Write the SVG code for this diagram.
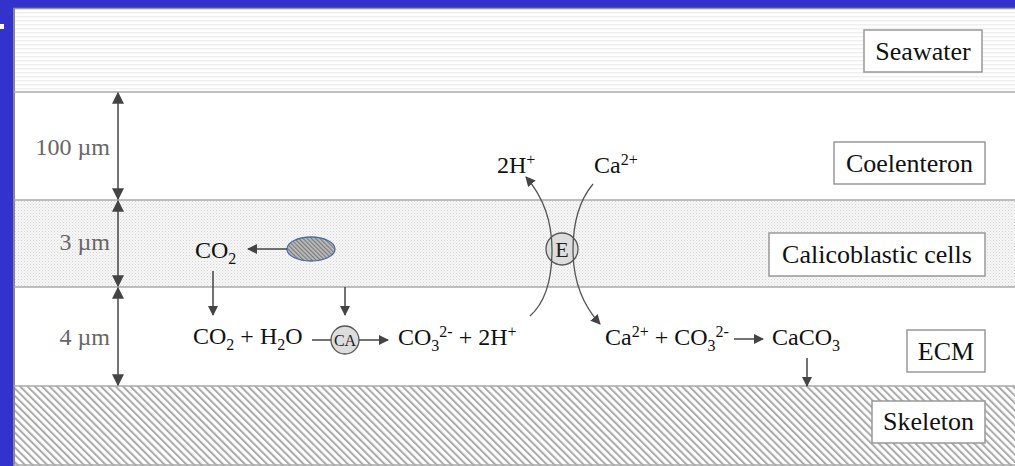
<svg xmlns="http://www.w3.org/2000/svg" width="1015" height="466" viewBox="0 0 1015 466">
<defs>
<style>
.lbl{font-family:"Liberation Serif","Times New Roman",serif;font-size:26px;fill:#111;text-anchor:middle}
.box{fill:#fff;stroke:#999;stroke-width:1.5}
.dim{font-family:"Liberation Serif","Times New Roman",serif;font-size:24px;fill:#666;text-anchor:end}
.chem{font-family:"Liberation Serif","Times New Roman",serif;font-size:24px;fill:#111}
.sm{font-size:16px}
.ln{fill:none;stroke:#444;stroke-width:1.5}
.cv{fill:none;stroke:#555;stroke-width:1.3}
.bnd{stroke:#aaa;stroke-width:1.5}
</style>
<pattern id="stripes" width="8" height="4" patternUnits="userSpaceOnUse">
<rect width="8" height="4" fill="#fff"/>
<rect y="0" width="8" height="1.5" fill="#efefef"/>
</pattern>
<pattern id="dots" width="3" height="3" patternUnits="userSpaceOnUse">
<rect width="3" height="3" fill="#f6f6f6"/>
<rect width="1" height="1" fill="#d6d6d6"/>
<rect x="1.5" y="1.5" width="1" height="1" fill="#e2e2e2"/>
</pattern>
<pattern id="hatch" width="5.2" height="5.2" patternUnits="userSpaceOnUse" patternTransform="rotate(-45)">
<rect width="5.2" height="5.2" fill="#fff"/>
<rect width="2" height="5.2" fill="#aaa"/>
</pattern>
<pattern id="hatch2" width="3" height="3" patternUnits="userSpaceOnUse" patternTransform="rotate(-45)">
<rect width="3" height="3" fill="#bdbdbd"/>
<rect width="1.2" height="3" fill="#7a7a7a"/>
</pattern>
<marker id="ah" viewBox="0 0 10 10" refX="9" refY="5" markerWidth="10" markerHeight="10" markerUnits="userSpaceOnUse" orient="auto">
<path d="M0,0 L10,5 L0,10 Z" fill="#444"/>
</marker>
<marker id="dh" viewBox="0 0 10 10" refX="9" refY="5" markerWidth="12" markerHeight="12" markerUnits="userSpaceOnUse" orient="auto-start-reverse">
<path d="M0,0 L10,5 L0,10 Z" fill="#444"/>
</marker>
</defs>

<rect width="1015" height="466" fill="#3333cc"/>
<rect x="0" y="24" width="4" height="5" fill="#fff"/>

<g id="layers">
<rect x="14" y="9" width="1001" height="83" fill="url(#stripes)"/>
<rect x="14" y="92" width="1001" height="108" fill="#fff"/>
<rect x="14" y="200" width="1001" height="87" fill="url(#dots)"/>
<rect x="14" y="287" width="1001" height="99" fill="#fff"/>
<rect x="14" y="386" width="1001" height="80" fill="url(#hatch)"/>
<line x1="13" y1="8.5" x2="1015" y2="8.5" stroke="#999" stroke-width="1.5"/>
<line x1="14" y1="8" x2="14" y2="466" stroke="#888" stroke-width="2"/>
<line class="bnd" x1="14" y1="92" x2="1015" y2="92"/>
<line class="bnd" x1="14" y1="200" x2="1015" y2="200"/>
<line class="bnd" x1="14" y1="287" x2="1015" y2="287"/>
<line class="bnd" x1="14" y1="386" x2="1015" y2="386"/>
<line class="bnd" x1="14" y1="465" x2="1015" y2="465"/>
</g>

<g id="seawater"><rect class="box" x="864" y="30" width="118" height="42"/><text class="lbl" x="923" y="60">Seawater</text></g>
<g id="coelenteron"><rect class="box" x="834" y="142" width="151" height="42"/><text class="lbl" x="909.5" y="172">Coelenteron</text></g>
<g id="calicoblastic"><rect class="box" x="769" y="233" width="216" height="43"/><text class="lbl" x="877" y="263">Calicoblastic cells</text></g>
<g id="ecm"><rect class="box" x="907" y="330" width="78" height="42"/><text class="lbl" x="946" y="360">ECM</text></g>
<g id="skeleton"><rect class="box" x="872" y="401" width="113" height="42"/><text class="lbl" x="928.5" y="430">Skeleton</text></g>

<g id="dimensions">
<text class="dim" x="110" y="155">100 µm</text>
<text class="dim" x="110" y="250">3 µm</text>
<text class="dim" x="110" y="345">4 µm</text>
</g>

<g id="co2-cell"><text class="chem" x="195" y="258">CO<tspan class="sm" dy="6">2</tspan></text></g>
<g id="vesicle"><ellipse cx="311" cy="249" rx="24" ry="12" fill="url(#hatch2)" stroke="#4a6aaa" stroke-width="1.3"/></g>
<g id="co2-h2o"><text class="chem" x="193" y="344">CO<tspan class="sm" dy="6">2</tspan><tspan dy="-6"> + H</tspan><tspan class="sm" dy="6">2</tspan><tspan dy="-6">O</tspan></text></g>
<g id="ca-enzyme"><circle cx="345" cy="340" r="14" fill="#ddd" stroke="#555" stroke-width="1.3"/><text x="345" y="346" text-anchor="middle" font-family="Liberation Serif, serif" font-size="16" fill="#222">CA</text></g>
<g id="co3-2h"><text class="chem" x="398" y="345">CO<tspan class="sm" dy="6">3</tspan><tspan class="sm" dy="-14">2-</tspan><tspan dy="8"> + 2H</tspan><tspan class="sm" dy="-8">+</tspan></text></g>
<g id="e-enzyme"><circle cx="562" cy="249" r="16" fill="#ddd" stroke="#555" stroke-width="1.3"/><text x="562" y="257" text-anchor="middle" font-family="Liberation Serif, serif" font-size="22" fill="#222">E</text></g>
<g id="h-out"><text class="chem" x="497" y="173">2H<tspan class="sm" dy="-8">+</tspan></text></g>
<g id="ca-in"><text class="chem" x="594" y="173">Ca<tspan class="sm" dy="-8">2+</tspan></text></g>
<g id="ca-co3"><text class="chem" x="605" y="345">Ca<tspan class="sm" dy="-8">2+</tspan><tspan dy="8"> + CO</tspan><tspan class="sm" dy="6">3</tspan><tspan class="sm" dy="-14">2-</tspan></text></g>
<g id="caco3"><text class="chem" x="772" y="345">CaCO<tspan class="sm" dy="6">3</tspan></text></g>

<g id="connectors">
<line x1="118" y1="93" x2="118" y2="199" class="ln" marker-start="url(#dh)" marker-end="url(#dh)"/>
<line x1="118" y1="201" x2="118" y2="286" class="ln" marker-start="url(#dh)" marker-end="url(#dh)"/>
<line x1="118" y1="288" x2="118" y2="385" class="ln" marker-start="url(#dh)" marker-end="url(#dh)"/>
<line x1="287" y1="249" x2="248" y2="249" class="ln" marker-end="url(#ah)"/>
<line x1="213" y1="271" x2="213" y2="315" class="ln" marker-end="url(#ah)"/>
<line x1="345" y1="287" x2="345" y2="315" class="ln" marker-end="url(#ah)"/>
<line x1="312" y1="340" x2="331" y2="340" class="ln"/>
<line x1="359" y1="340" x2="388" y2="340" class="ln" marker-end="url(#ah)"/>
<path d="M530,316 C548,300 552,275 552,250 C552,225 546,200 526,177" class="cv" marker-end="url(#ah)"/>
<path d="M593,184 C578,202 573,225 573,250 C573,275 580,302 600,324" class="cv" marker-end="url(#ah)"/>
<line x1="734" y1="339" x2="763" y2="339" class="ln" marker-end="url(#ah)"/>
<line x1="807" y1="358" x2="807" y2="386" class="ln" marker-end="url(#ah)"/>
</g>
</svg>
